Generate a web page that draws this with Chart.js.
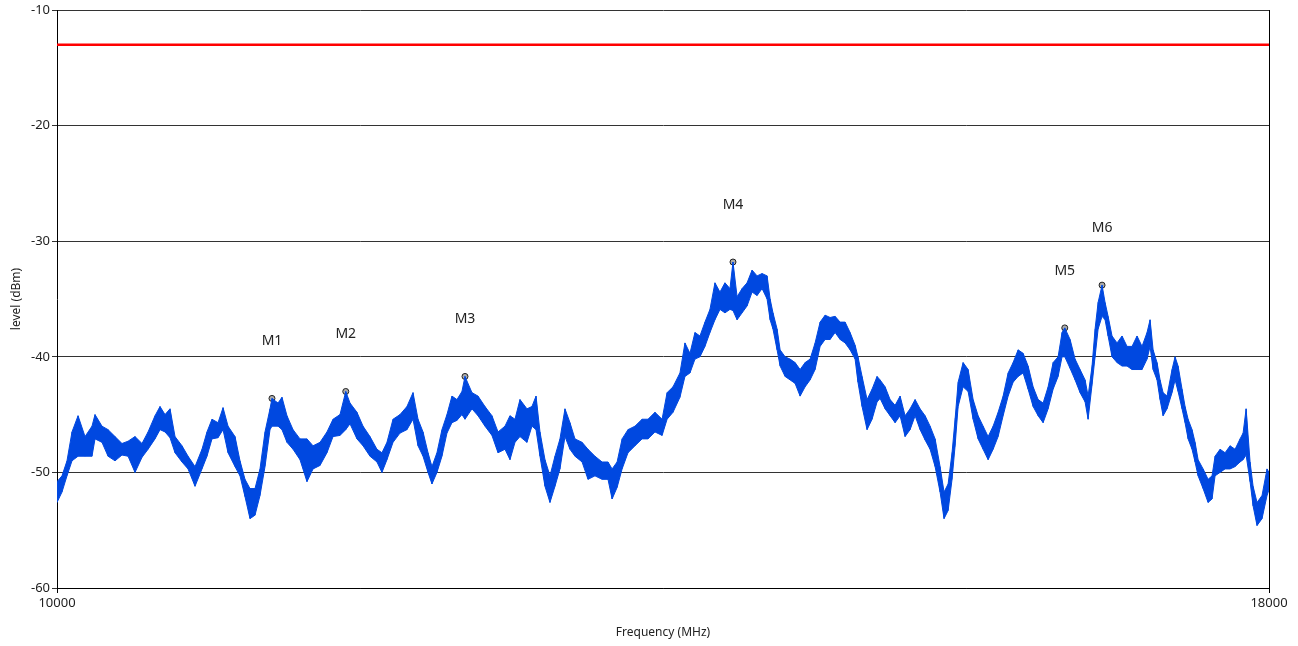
<!DOCTYPE html>
<html>
<head>
<meta charset="utf-8">
<script src="https://cdn.jsdelivr.net/npm/chart.js@4.4.1/dist/chart.umd.min.js"></script>
<style>
  html, body { margin: 0; padding: 0; background: #fff; }
  canvas { display: block; }
</style>
</head>
<body>
<canvas id="grafico" width="1298" height="646"></canvas>
<script>
// trace: frequency (MHz), upper and lower edge of the noise band (dBm)
const freqMHz = [
  10000, 10033, 10066, 10099, 10139, 10185, 10231, 10251, 10297, 10337,
  10383, 10429, 10469, 10515, 10561, 10601, 10647, 10680, 10713, 10746,
  10779, 10825, 10865, 10911, 10957, 10990, 11023, 11063, 11096, 11129,
  11175, 11208, 11241, 11274, 11307, 11340, 11373, 11406, 11419, 11459,
  11485, 11518, 11558, 11604, 11650, 11690, 11736, 11782, 11822, 11868,
  11906, 11934, 11980, 12020, 12066, 12112, 12145, 12178, 12218, 12264,
  12310, 12350, 12383, 12416, 12449, 12475, 12508, 12541, 12574, 12607,
  12640, 12673, 12693, 12739, 12779, 12825, 12871, 12911, 12957, 12990,
  13023, 13056, 13102, 13135, 13162, 13188, 13221, 13254, 13287, 13320,
  13353, 13386, 13419, 13466, 13505, 13551, 13598, 13637, 13664, 13697,
  13730, 13769, 13815, 13862, 13901, 13947, 13994, 14027, 14066, 14112,
  14145, 14178, 14211, 14244, 14277, 14310, 14343, 14376, 14409, 14442,
  14462, 14489, 14522, 14555, 14588, 14621, 14654, 14687, 14707, 14726,
  14753, 14773, 14806, 14839, 14872, 14905, 14938, 14971, 15004, 15037,
  15070, 15103, 15136, 15169, 15202, 15235, 15268, 15287, 15314, 15347,
  15380, 15413, 15433, 15466, 15499, 15532, 15565, 15598, 15631, 15664,
  15697, 15730, 15763, 15796, 15829, 15855, 15882, 15908, 15928, 15948,
  15981, 16014, 16047, 16080, 16113, 16146, 16179, 16212, 16245, 16278,
  16311, 16344, 16377, 16410, 16443, 16476, 16509, 16542, 16575, 16608,
  16634, 16652, 16687, 16720, 16753, 16786, 16806, 16832, 16852, 16872,
  16898, 16918, 16938, 16964, 16997, 17030, 17063, 17096, 17129, 17162,
  17195, 17215, 17235, 17261, 17281, 17301, 17327, 17360, 17380, 17400,
  17426, 17446, 17466, 17492, 17512, 17532, 17565, 17598, 17624, 17644,
  17677, 17710, 17743, 17776, 17809, 17829, 17849, 17875, 17895, 17921,
  17954, 17987, 18000
];
const levelTop = [
  -50.8, -50.3, -49.0, -46.5, -45.1, -46.9, -46.0, -45.0, -46.0, -46.3,
  -46.9, -47.5, -47.3, -46.9, -47.5, -46.5, -45.1, -44.3, -45.0, -44.5,
  -46.9, -47.7, -48.6, -49.5, -48.0, -46.5, -45.4, -45.7, -44.4, -46.0,
  -46.9, -49.0, -50.6, -51.4, -51.4, -49.7, -46.5, -44.5, -43.6, -44.0,
  -43.5, -45.1, -46.3, -47.1, -47.1, -47.7, -47.4, -46.5, -45.4, -45.0,
  -43.0, -44.0, -44.8, -46.0, -46.9, -48.0, -48.3, -47.4, -45.4, -45.0,
  -44.3, -43.1, -45.4, -46.5, -48.3, -49.5, -48.3, -46.3, -45.0, -43.4,
  -43.7, -43.0, -41.7, -43.1, -43.4, -44.3, -45.1, -46.5, -46.0, -45.1,
  -45.4, -43.7, -44.5, -44.3, -43.4, -46.5, -48.9, -50.3, -48.6, -47.1,
  -44.5, -45.7, -47.1, -47.4, -48.0, -48.6, -49.1, -49.1, -49.7, -49.1,
  -47.1, -46.3, -46.0, -45.4, -45.4, -44.8, -45.4, -43.1, -42.6, -41.4,
  -38.8, -39.7, -37.9, -38.2, -37.0, -35.9, -33.6, -34.4, -33.6, -34.1,
  -31.8, -34.8, -34.1, -33.6, -32.5, -33.0, -32.8, -33.0, -35.0, -36.2,
  -37.6, -39.4, -40.0, -40.2, -40.5, -41.1, -40.5, -40.2, -38.8, -37.0,
  -36.4, -36.6, -36.5, -37.0, -37.0, -37.9, -39.0, -40.0, -41.7, -43.7,
  -42.8, -41.7, -42.0, -42.6, -43.7, -44.2, -43.4, -45.1, -44.5, -43.7,
  -44.5, -45.1, -46.0, -47.1, -49.5, -51.7, -51.0, -48.3, -45.4, -42.2,
  -40.5, -41.1, -43.7, -45.1, -46.0, -46.9, -46.0, -44.8, -43.4, -41.4,
  -40.5, -39.4, -39.7, -40.8, -42.6, -43.7, -44.0, -42.6, -40.5, -40.0,
  -37.9, -37.5, -38.5, -40.2, -41.1, -42.0, -43.4, -40.8, -37.6, -35.3,
  -33.8, -35.3, -36.5, -38.2, -38.8, -38.2, -39.1, -39.1, -38.2, -39.1,
  -37.9, -36.8, -39.4, -40.5, -42.0, -43.1, -43.4, -41.1, -40.0, -40.8,
  -42.8, -44.3, -45.4, -46.3, -47.4, -48.9, -49.7, -50.6, -50.3, -48.6,
  -48.0, -48.3, -47.7, -48.0, -47.1, -46.6, -44.5, -49.1, -51.2, -52.6,
  -52.0, -49.7, -50.0
];
const levelBottom = [
  -52.6, -51.7, -50.3, -49.0, -48.6, -48.6, -48.6, -47.1, -47.4, -48.6,
  -49.0, -48.5, -48.6, -50.0, -48.7, -48.0, -47.1, -46.3, -46.5, -47.0,
  -48.3, -49.1, -49.7, -51.2, -49.7, -48.6, -47.1, -47.0, -46.3, -48.3,
  -49.5, -50.3, -52.1, -54.0, -53.7, -52.0, -49.5, -46.3, -46.0, -46.0,
  -46.3, -47.4, -48.0, -48.9, -50.8, -49.7, -49.4, -48.3, -46.9, -46.8,
  -46.3, -45.8, -47.1, -47.7, -48.6, -49.1, -50.0, -48.9, -47.4, -46.6,
  -46.3, -45.4, -47.7, -48.6, -50.0, -51.0, -50.0, -48.6, -46.6, -45.7,
  -45.5, -45.0, -45.4, -44.5, -45.1, -46.0, -46.8, -48.3, -48.0, -48.9,
  -47.4, -46.9, -47.4, -46.0, -46.3, -48.6, -51.2, -52.6, -51.2, -49.7,
  -46.9, -48.0, -48.6, -49.1, -50.6, -50.3, -50.6, -50.6, -52.3, -51.3,
  -49.7, -48.3, -47.7, -47.1, -47.1, -46.5, -46.8, -45.4, -44.8, -43.5,
  -41.7, -41.4, -40.2, -40.0, -39.1, -37.9, -36.8, -35.9, -36.2, -35.9,
  -36.0, -36.8, -36.2, -35.6, -34.4, -34.7, -34.1, -35.0, -36.8, -37.6,
  -39.4, -40.8, -41.7, -42.0, -42.3, -43.4, -42.6, -42.0, -41.1, -39.1,
  -38.5, -38.5, -37.9, -38.5, -38.8, -39.4, -40.2, -42.2, -44.3, -46.3,
  -45.4, -43.9, -43.6, -44.5, -45.1, -45.7, -45.1, -46.9, -46.3, -45.1,
  -46.3, -47.2, -48.0, -49.5, -51.7, -54.0, -53.3, -50.6, -47.7, -44.3,
  -42.6, -43.0, -45.4, -47.1, -48.0, -48.9, -48.0, -46.9, -45.1, -43.4,
  -42.2, -41.7, -41.4, -42.8, -44.3, -45.1, -45.7, -44.5, -42.8, -41.7,
  -40.0, -40.0, -41.0, -42.0, -43.1, -43.9, -45.4, -42.4, -40.0, -37.6,
  -36.5, -36.8, -38.2, -40.0, -40.5, -40.8, -40.8, -41.1, -41.1, -41.1,
  -40.2, -39.1, -41.1, -42.0, -43.7, -45.1, -44.5, -43.1, -42.0, -43.0,
  -44.5, -45.7, -47.1, -48.0, -49.1, -50.3, -51.4, -52.6, -52.3, -50.3,
  -50.0, -49.7, -49.7, -49.5, -49.1, -48.9, -48.5, -50.8, -52.9, -54.6,
  -54.0, -52.0, -51.5
];

const limitLevel = -13;

const markerNames = ['M1', 'M2', 'M3', 'M4', 'M5', 'M6'];
const markerFreqMHz = [11419, 11906, 12693, 14462, 16652, 16898];
const markerLevel = [-43.6, -43.0, -41.7, -31.8, -37.5, -33.8];

const xTickValues = [10000, 18000];
const yMin = -60, yMax = -10, yStep = 10;

const traceColor = 'rgb(0, 72, 224)';
const textColor = '#222';
const fontFamily = '"Noto Sans", "Open Sans", Arial, sans-serif';

const topPoints = freqMHz.map((f, i) => ({ x: f, y: levelTop[i] }));
const bottomPoints = freqMHz.map((f, i) => ({ x: f, y: levelBottom[i] }));

// noise strokes: at each frequency go from the lower to the upper edge
const noisePoints = [];
freqMHz.forEach((f, i) => {
    noisePoints.push({ x: f, y: levelBottom[i] });
    noisePoints.push({ x: f, y: levelTop[i] });
});

const markerPoints = markerFreqMHz.map((f, i) => ({ x: f, y: markerLevel[i] }));

// draws the marker names above each marker
const markerLabels = {
    id: 'markerLabels',
    afterDatasetsDraw(chart) {
        const { ctx, scales } = chart;
        ctx.save();
        ctx.font = '14px ' + fontFamily;
        ctx.fillStyle = textColor;
        ctx.textAlign = 'center';
        ctx.textBaseline = 'middle';
        markerNames.forEach((name, i) => {
            const px = scales.x.getPixelForValue(markerFreqMHz[i]);
            const py = scales.y.getPixelForValue(markerLevel[i]);
            ctx.fillText(name, px, py - 57);
        });
        ctx.restore();
    }
};

const ctx = document.getElementById('grafico').getContext('2d');
new Chart(ctx, {
    type: 'line',
    data: {
        datasets: [
            {
                label: 'limit',
                data: [{ x: xTickValues[0], y: limitLevel }, { x: xTickValues[1], y: limitLevel }],
                borderColor: 'rgb(255, 0, 0)',
                borderWidth: 2.6,
                pointRadius: 0
            },
            {
                label: 'trace top',
                data: topPoints,
                borderColor: traceColor,
                backgroundColor: traceColor,
                borderWidth: 1,
                pointRadius: 0,
                fill: '+1'
            },
            {
                label: 'trace bottom',
                data: bottomPoints,
                borderColor: traceColor,
                borderWidth: 1,
                pointRadius: 0,
                fill: false
            },
            {
                label: 'trace noise',
                data: noisePoints,
                borderColor: 'rgba(30, 100, 235, 0.8)',
                borderWidth: 1,
                pointRadius: 0,
                fill: false
            },
            {
                label: 'markers',
                data: markerPoints,
                showLine: false,
                pointStyle: 'circle',
                pointRadius: 3,
                pointBackgroundColor: '#aaa',
                pointBorderColor: '#222',
                pointBorderWidth: 1
            },
            {
                label: 'marker cross',
                data: markerPoints,
                showLine: false,
                pointStyle: 'cross',
                pointRadius: 2,
                pointBorderColor: '#222',
                pointBorderWidth: 1
            }
        ]
    },
    options: {
        responsive: false,
        animation: false,
        layout: { padding: { top: 10, right: 29, left: 0, bottom: 0 } },
        plugins: {
            legend: { display: false },
            tooltip: { enabled: false }
        },
        scales: {
            x: {
                type: 'linear',
                min: xTickValues[0],
                max: xTickValues[1],
                afterBuildTicks: scale => { scale.ticks = xTickValues.map(v => ({ value: v })); },
                afterFit: scale => { scale.height = 58; },
                ticks: {
                    color: textColor,
                    font: { family: fontFamily, size: 13 },
                    padding: 2,
                    maxRotation: 0,
                    callback: v => String(v)
                },
                grid: {
                    color: c => (c.tick && c.tick.value === xTickValues[1]) ? '#000' : 'rgba(0,0,0,0)',
                    tickColor: '#000',
                    tickLength: 5,
                    lineWidth: 1
                },
                border: { color: '#000', width: 1 },
                title: {
                    display: true,
                    text: 'Frequency (MHz)',
                    color: textColor,
                    font: { family: fontFamily, size: 12 },
                    padding: { top: 0, bottom: 6 }
                }
            },
            y: {
                min: yMin,
                max: yMax,
                afterFit: scale => { scale.width = 57; },
                ticks: {
                    stepSize: yStep,
                    color: textColor,
                    font: { family: fontFamily, size: 13 },
                    padding: 2,
                    callback: v => String(v)
                },
                grid: {
                    color: '#333',
                    tickColor: '#333',
                    tickLength: 5,
                    lineWidth: 1
                },
                border: { color: '#000', width: 1 },
                title: {
                    display: true,
                    text: 'level (dBm)',
                    color: textColor,
                    font: { family: fontFamily, size: 12 },
                    padding: { top: 9, bottom: 0 }
                }
            }
        }
    },
    plugins: [markerLabels]
});
</script>
</body>
</html>
